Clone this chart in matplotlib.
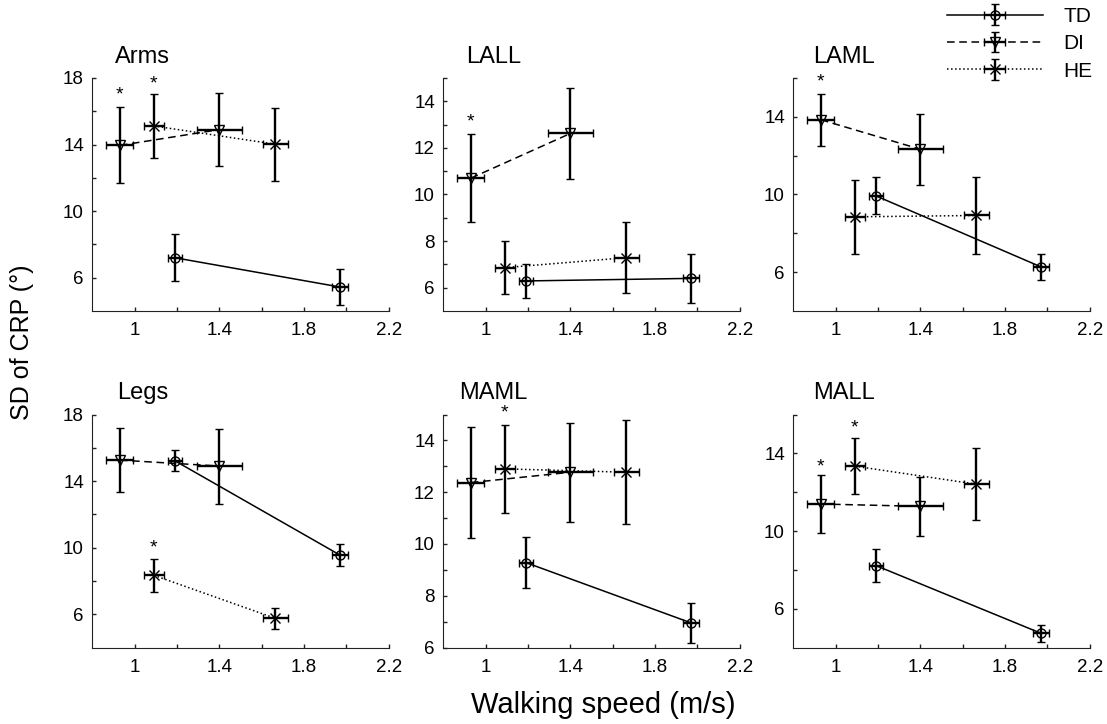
import numpy as np
import matplotlib
matplotlib.use('Agg')
import matplotlib.pyplot as plt

plt.rcParams['font.family'] = ['Liberation Sans', 'DejaVu Sans']

panels = ['Arms', 'LALL', 'LAML', 'Legs', 'MAML', 'MALL']
groups = ['TD', 'DI', 'HE']

# walking speed (m/s), mean and SD, same in every panel
td_speed = [1.19, 1.97]
td_speed_sd = [0.033, 0.036]
di_speed = [0.93, 1.40]
di_speed_sd = [0.064, 0.105]
he_speed = [1.09, 1.665]
he_speed_sd = [0.048, 0.057]

# SD of CRP (deg): mean and SD, one pair per panel
td_mean = [[7.2, 5.44], [6.29, 6.4], [9.93, 6.27], [15.22, 9.55], [9.28, 6.95], [8.22, 4.73]]
td_sd = [[1.42, 1.1], [0.72, 1.06], [0.95, 0.69], [0.63, 0.67], [0.98, 0.76], [0.84, 0.43]]
di_mean = [[13.95, 14.9], [10.7, 12.62], [13.85, 12.33], [15.26, 14.9], [12.37, 12.77], [11.39, 11.27]]
di_sd = [[2.28, 2.2], [1.88, 1.95], [1.35, 1.83], [1.9, 2.25], [2.14, 1.91], [1.48, 1.53]]
he_mean = [[15.12, 14.02], [6.86, 7.29], [8.85, 8.92], [8.34, 5.75], [12.9, 12.77], [13.34, 12.41]]
he_sd = [[1.93, 2.2], [1.13, 1.53], [1.9, 2.0], [1.0, 0.61], [1.71, 2.0], [1.46, 1.85]]

# significance stars
star_x = [[0.93, 1.09], [0.93], [0.93], [1.09], [1.09], [0.93, 1.09]]
star_y = [[17.0, 17.65], [13.1], [15.8], [10.0], [15.05], [13.3, 15.3]]

ylims = [(4, 18), (5, 15), (4, 16), (4, 18), (6, 15), (4, 16)]
yticks = [[6, 10, 14, 18], [6, 8, 10, 12, 14], [6, 10, 14],
          [6, 10, 14, 18], [6, 8, 10, 12, 14], [6, 10, 14]]
xticks = [1, 1.4, 1.8, 2.2]

W, H = 1107, 724
fig = plt.figure(figsize=(W / 100, H / 100), dpi=100)

lefts = [92.3, 443.3, 793.3]
bottoms = [311, 647.5]
aw, ah = 296.5, 233

err_kw = dict(color='k', lw=1.1, elinewidth=1.7, capsize=3.2, capthick=1.7,
              ms=6.5, mfc='none', mec='k', mew=1.0)

handles = None
for i, name in enumerate(panels):
    r, c = divmod(i, 3)
    ax = fig.add_axes([lefts[c] / W, 1 - bottoms[r] / H, aw / W, ah / H])

    h_td = ax.errorbar(td_speed, td_mean[i], yerr=td_sd[i], xerr=td_speed_sd,
                       fmt='o-', **err_kw)
    h_di = ax.errorbar(di_speed, di_mean[i], yerr=di_sd[i], xerr=di_speed_sd,
                       fmt='v', ls=(0, (5, 3)), **err_kw)
    h_he = ax.errorbar(he_speed, he_mean[i], yerr=he_sd[i], xerr=he_speed_sd,
                       fmt='x', ls=':', **err_kw)
    if handles is None:
        handles = [h_td, h_di, h_he]

    for sx, sy in zip(star_x[i], star_y[i]):
        ax.text(sx, sy, '*', ha='center', va='center', fontsize=14)

    ax.set_xlim(0.8, 2.2)
    ax.set_ylim(*ylims[i])
    ax.set_xticks(xticks)
    ax.set_xticklabels(['1', '1.4', '1.8', '2.2'])
    ax.set_xticks([1.2, 1.6, 2.0], minor=True)
    ax.set_yticks(yticks[i])
    step = yticks[i][1] - yticks[i][0]
    minor = np.arange(yticks[i][0] + step / 2, ylims[i][1] + 0.01, step / 2)
    ax.set_yticks([m for m in minor if m not in yticks[i]], minor=True)
    ax.tick_params(which='both', direction='in', length=3, width=1, colors='#222222',
                   labelsize=13.5, labelcolor='k')
    ax.tick_params(axis='x', pad=8)
    ax.tick_params(axis='y', pad=6)
    for s in ['top', 'right']:
        ax.spines[s].set_visible(False)
    for s in ['left', 'bottom']:
        ax.spines[s].set_color('#222222')
    ax.text(0.17, 1.066, name, transform=ax.transAxes, ha='center', va='baseline',
            fontsize=17)

fig.legend(handles, groups, loc='upper left', bbox_to_anchor=(946.7 / W, 1 - 7 / H),
           frameon=False, fontsize=15, handlelength=4.6, handletextpad=1.0,
           labelspacing=0.4, borderpad=0, borderaxespad=0, numpoints=1)

fig.text(22.5 / W, 1 - 342 / H, 'SD of CRP (°)', rotation=90, ha='center', va='center',
         fontsize=18)
fig.text(603.5 / W, 1 - 713 / H, 'Walking speed (m/s)', ha='center', va='baseline',
         fontsize=21)

fig.savefig('out.png', dpi=100)
